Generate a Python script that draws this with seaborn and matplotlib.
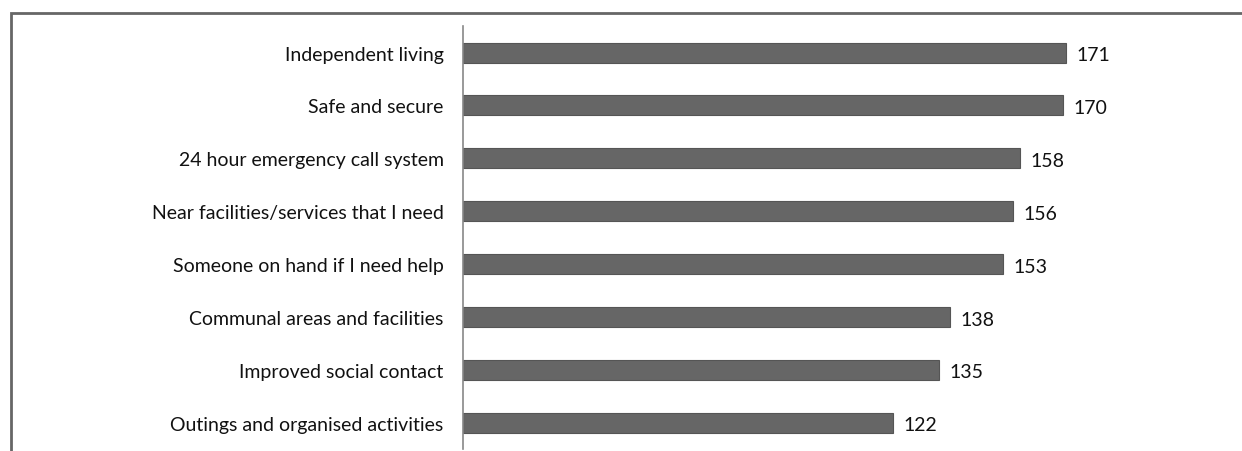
import matplotlib
matplotlib.use("Agg")
import matplotlib.pyplot as plt
import matplotlib.patches as mpatches
import seaborn as sns
import pandas as pd

# Values
categories = [
    "Independent living",
    "Safe and secure",
    "24 hour emergency call system",
    "Near facilities/services that I need",
    "Someone on hand if I need help",
    "Communal areas and facilities",
    "Improved social contact",
    "Outings and organised activities",
]
counts = [171, 170, 158, 156, 153, 138, 135, 122]

df = pd.DataFrame({"reason": categories, "count": counts})

sns.set_style("white")
plt.rcParams["font.family"] = ["Lato", "DejaVu Sans"]

fig = plt.figure(figsize=(12.42, 4.52), dpi=100)
ax = fig.add_axes([463 / 1242, 0.004, (1232 - 463) / 1242, 0.936])

sns.barplot(data=df, y="reason", x="count", orient="h", color="#666666",
            width=0.38, edgecolor="#555555", linewidth=0.8, ax=ax)

ax.set_xlim(0, 218)
ax.set_ylim(7.5, -0.5)
ax.set_xlabel("")
ax.set_ylabel("")
ax.set_xticks([])
ax.tick_params(axis="y", length=0, pad=14, labelsize=14, labelcolor="#111111")

for side in ["top", "right", "bottom"]:
    ax.spines[side].set_visible(False)
ax.spines["left"].set_color("#888888")
ax.spines["left"].set_linewidth(1.2)

for i, v in enumerate(counts):
    ax.text(v + 3, i + 0.04, str(v), va="center", ha="left", fontsize=14, color="#111111")

# outer frame like the original figure
frame = mpatches.Rectangle((11 / 1242, -0.1), 1.2, 1 - 14 / 452 + 0.1,
                           transform=fig.transFigure, fill=False,
                           edgecolor="#666666", linewidth=2, clip_on=False)
fig.patches.append(frame)

fig.savefig("out.png", dpi=100)
